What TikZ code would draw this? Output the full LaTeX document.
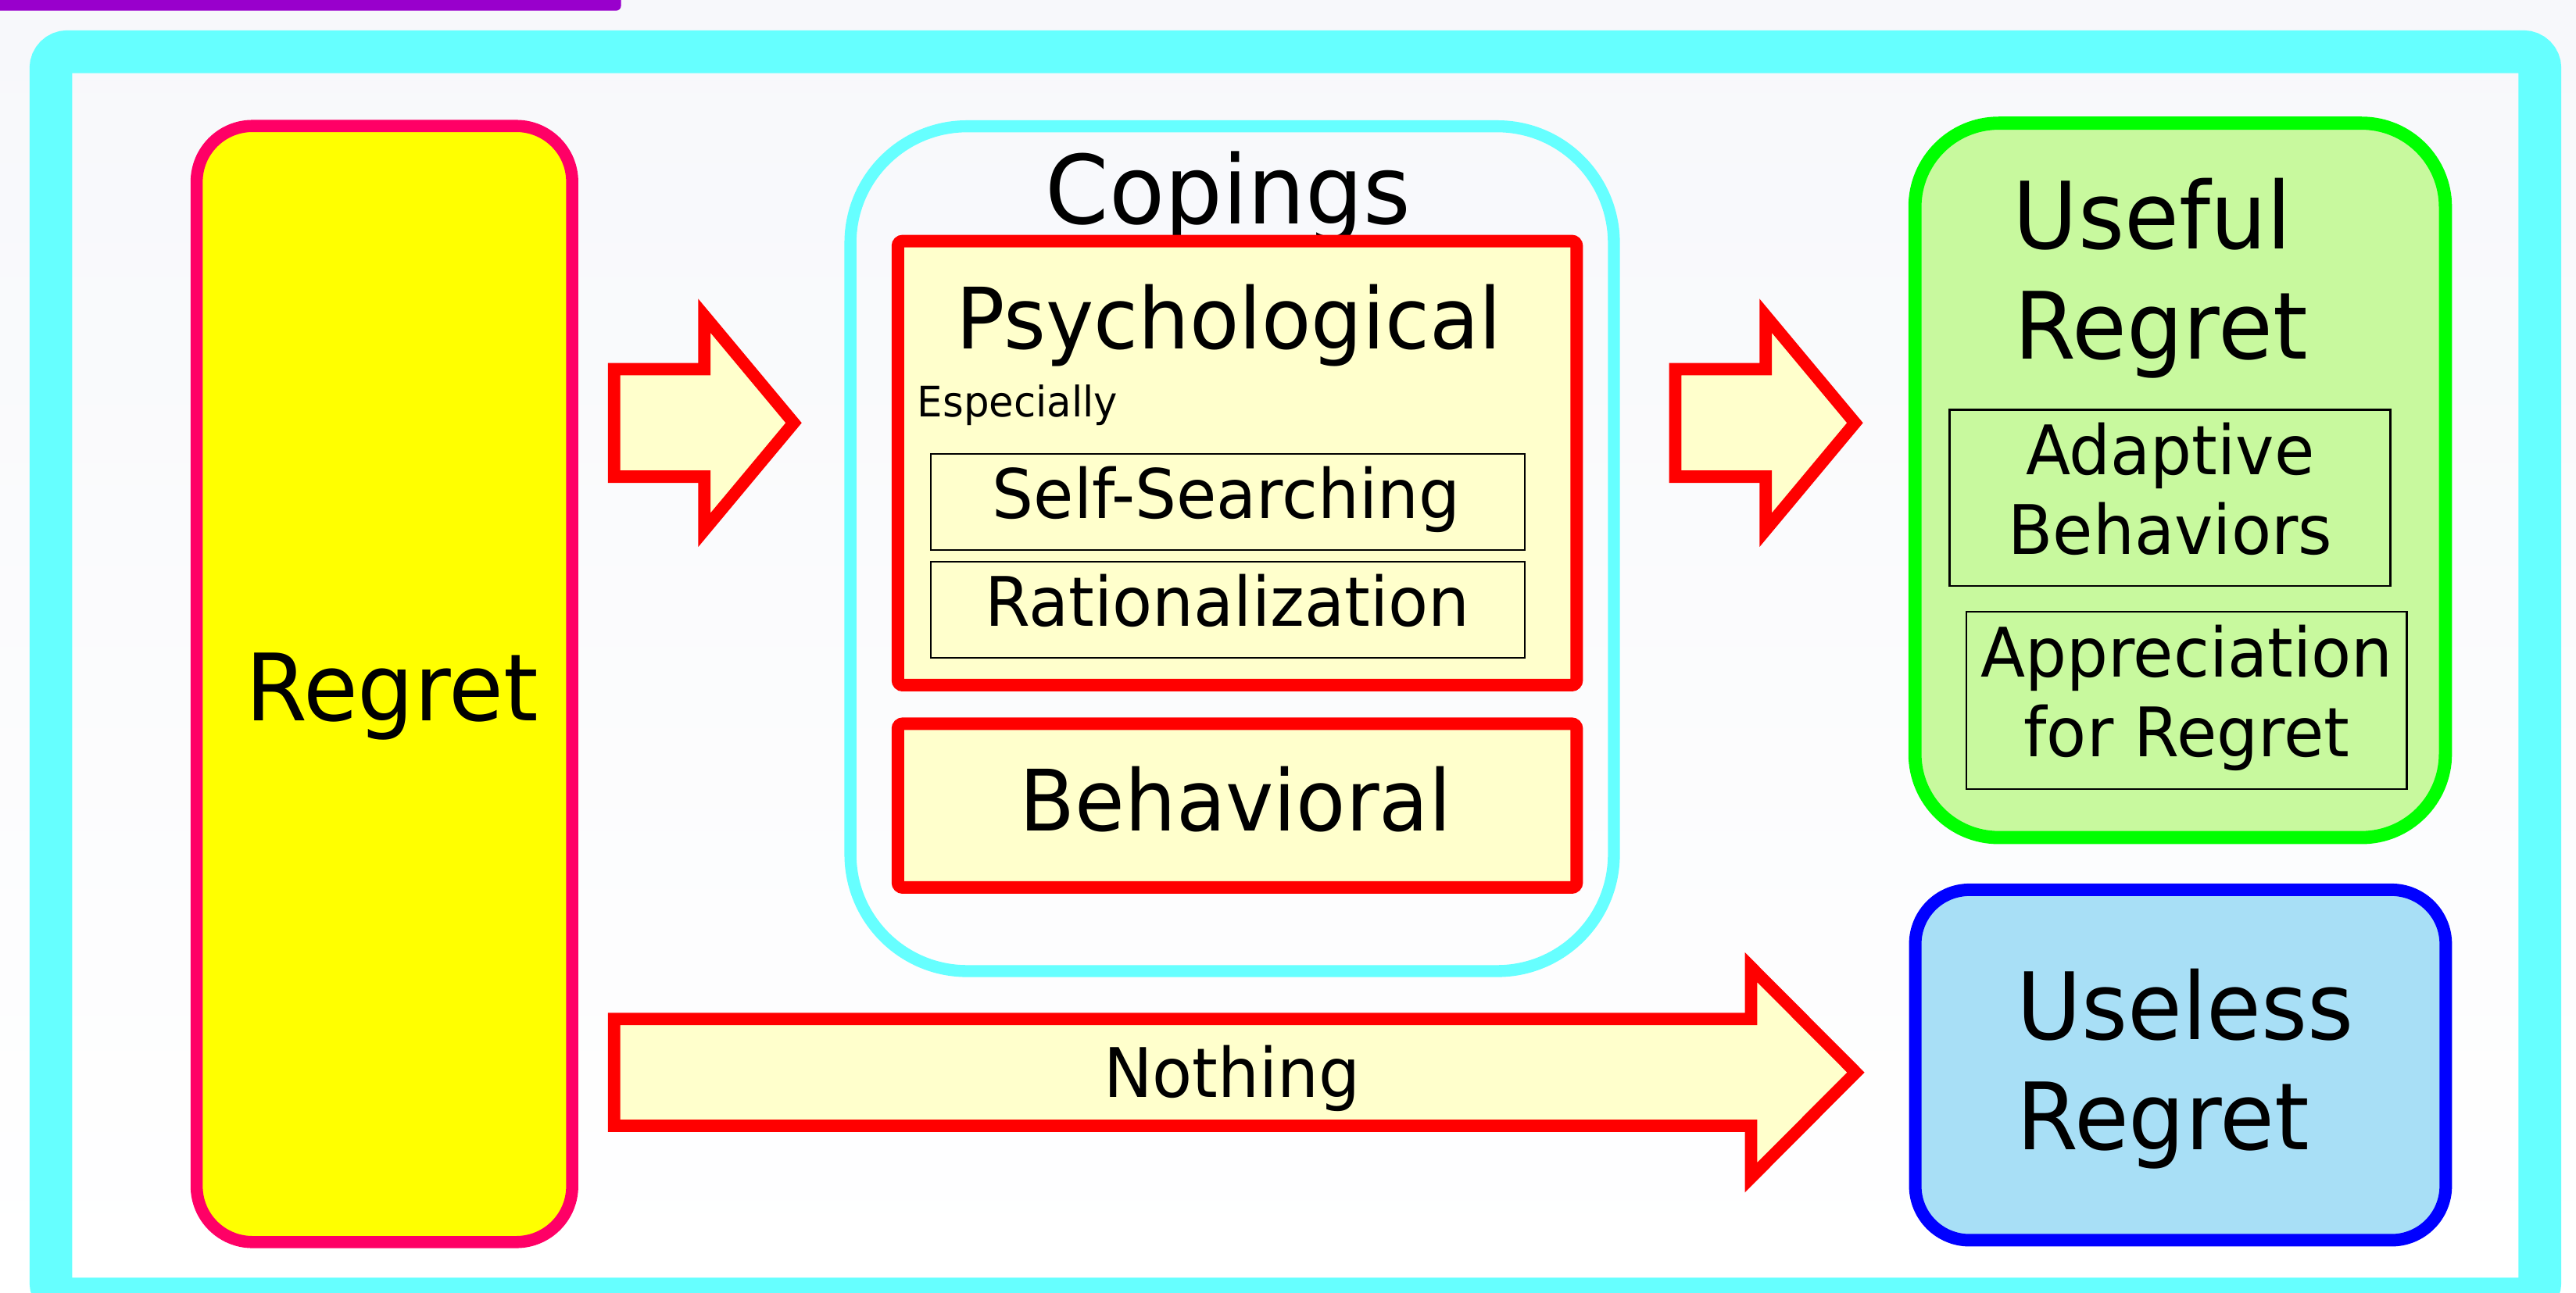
\documentclass[tikz,border=0pt]{standalone}
\usepackage{fontspec}
\setmainfont{DejaVu Sans}[FakeStretch=0.955]
\definecolor{cyanF}{HTML}{66FFFF}
\definecolor{pinkR}{HTML}{FF0066}
\definecolor{yelF}{HTML}{FFFF00}
\definecolor{redS}{HTML}{FF0000}
\definecolor{creamF}{HTML}{FFFFCC}
\definecolor{greenS}{HTML}{00FF00}
\definecolor{greenF}{HTML}{C8F99E}
\definecolor{blueS}{HTML}{0000FF}
\definecolor{blueF}{HTML}{A8DFF6}
\definecolor{purpleF}{HTML}{9900CC}
\definecolor{bgTop}{HTML}{F7F8FB}
\definecolor{bgBot}{HTML}{FFFFFF}
\tikzset{
  bigtxt/.style={font=\fontsize{28.3}{34}\selectfont, inner sep=0pt},
  midtxt/.style={font=\fontsize{25.8}{31}\selectfont, inner sep=0pt},
  smalltxt/.style={font=\fontsize{20.8}{25}\selectfont, inner sep=0pt},
  tinytxt/.style={font=\fontsize{12.8}{15}\selectfont, inner sep=0pt},
  redbox/.style={draw=redS, fill=creamF, line width=3.8pt, rounded corners=1.5pt, inner sep=0pt},
  thinbox/.style={draw=black, line width=0.5pt, inner sep=0pt},
  blockarrow/.style={draw=redS, fill=creamF, line width=3.75pt, miter limit=10, line join=miter},
}
\begin{document}
\begin{tikzpicture}[x=0.5pt,y=-0.5pt]
\useasboundingbox (0,0) rectangle (1568,787);
\shade[top color=bgTop, bottom color=bgBot] (0,0) rectangle (1568,787);
% purple bar
\fill[purpleF, rounded corners=1.5pt] (-10,-10) -- (378,-10) -- (378,6.5) -- (-10,6.5) -- cycle;
% outer frame
\node[draw=cyanF, line width=13pt, rounded corners=5pt, minimum width=757.5pt, minimum height=379.75pt, inner sep=0pt] (frame) at (788.5,411.25) {};
% Regret box
\node[draw=pinkR, fill=yelF, line width=3.7pt, rounded corners=17pt, minimum width=114.3pt, minimum height=339.8pt, inner sep=0pt] (regret) at (234,416.5) {};
\node[bigtxt, anchor=base] (regrettxt) at (238.5,439) {Regret};
% Copings
\node[draw=cyanF, line width=3.65pt, rounded corners=35.5pt, minimum width=232.35pt, minimum height=257.2pt, inner sep=0pt] (copings) at (750,334.1) {};
\node[font=\fontsize{29}{34}\selectfont, inner sep=0pt, anchor=base] (copingstxt) at (747.6,136.4) {Copings};
\node[redbox, minimum width=206.6pt, minimum height=135.2pt] (psych) at (753.1,282) {};
\node[midtxt, anchor=base] (psychtxt) at (748,212.2) {Psychological};
\node[tinytxt, anchor=base west] (esp) at (558,253.7) {Especially};
\node[thinbox, minimum width=180.7pt, minimum height=29.3pt] (self) at (747.3,305.7) {};
\node[smalltxt, anchor=base] (selftxt) at (746.4,315.6) {Self-Searching};
\node[thinbox, minimum width=180.7pt, minimum height=29.35pt] (ration) at (747.3,371.35) {};
\node[smalltxt, anchor=base] (rationtxt) at (747,381.4) {Rationalization};
\node[redbox, minimum width=206.6pt, minimum height=49.85pt] (behav) at (753.1,490.55) {};
\node[midtxt, anchor=base] (behavtxt) at (752,505.9) {Behavioral};
% Useful regret
\node[draw=greenS, fill=greenF, line width=4pt, rounded corners=25.5pt, minimum width=161.45pt, minimum height=217.5pt, inner sep=0pt] (useful) at (1327.05,292.5) {};
\node[bigtxt, anchor=base west] (usefultxt1) at (1225,151.5) {Useful};
\node[bigtxt, anchor=base west] (usefultxt2) at (1226,218.5) {Regret};
\node[thinbox, minimum width=134.15pt, minimum height=53.75pt] (adapt) at (1320.85,303.25) {};
\node[smalltxt, anchor=base] (adapttxt1) at (1321,289.1) {Adaptive};
\node[smalltxt, anchor=base] (adapttxt2) at (1321,337.5) {Behaviors};
\node[thinbox, minimum width=134pt, minimum height=53.9pt] (apprec) at (1331,426.6) {};
\node[smalltxt, anchor=base] (apprectxt1) at (1331,412.3) {Appreciation};
\node[smalltxt, anchor=base] (apprectxt2) at (1331,460.7) {for Regret};
% Useless regret
\node[draw=blueS, fill=blueF, line width=3.8pt, rounded corners=16.5pt, minimum width=161.45pt, minimum height=106.7pt, inner sep=0pt] (useless) at (1327.25,648.5) {};
\node[bigtxt, anchor=base west] (uselesstxt1) at (1227,633) {Useless};
\node[bigtxt, anchor=base west] (uselesstxt2) at (1227,700) {Regret};
% block arrows
\draw[blockarrow] (373.75,224.75) -- (428.75,224.75) -- (428.75,192.3) -- (483.1,257.5) -- (428.75,322.7) -- (428.75,290.25) -- (373.75,290.25) -- cycle;
\draw[blockarrow] (1019.75,224.75) -- (1074.75,224.75) -- (1074.75,192.3) -- (1129.1,257.5) -- (1074.75,322.7) -- (1074.75,290.25) -- (1019.75,290.25) -- cycle;
\draw[blockarrow] (373.85,620.5) -- (1065.85,620.5) -- (1065.85,589) -- (1129.6,653) -- (1065.85,717) -- (1065.85,685.5) -- (373.85,685.5) -- cycle;
\node[smalltxt, anchor=base] (nothing) at (749.9,668) {Nothing};
\end{tikzpicture}
\end{document}
